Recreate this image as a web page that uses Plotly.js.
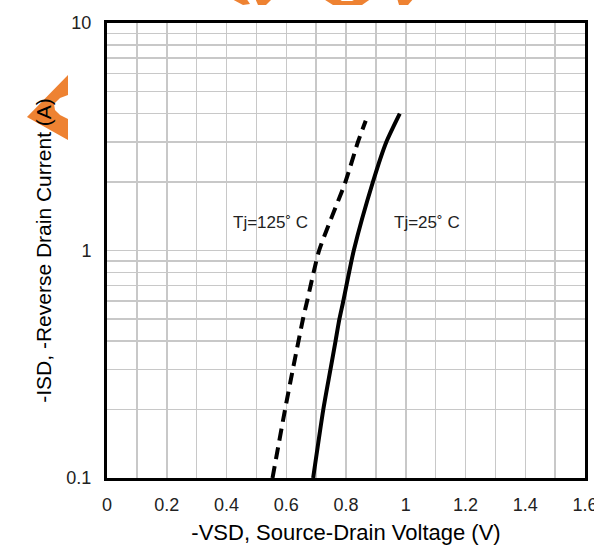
<!DOCTYPE html>
<html>
<head>
<meta charset="utf-8">
<script src="https://cdn.plot.ly/plotly-3.0.1.min.js"></script>
<style>html,body{margin:0;padding:0;background:#fff;}#chart{width:594px;height:552px;}</style>
</head>
<body>
<div id="chart"></div>
<script>
// Data
const current = [0.1, 0.2, 0.3, 0.4, 0.5, 0.6, 1, 2, 3, 4];
const vsd25 = [0.690, 0.724, 0.748, 0.765, 0.778, 0.791, 0.826, 0.890, 0.935, 0.980];
const current125 = [0.1, 0.2, 0.3, 0.4, 0.5, 0.6, 1, 2, 3, 3.72];
const vsd125 = [0.554, 0.596, 0.622, 0.641, 0.656, 0.670, 0.710, 0.798, 0.840, 0.866];
const xTickVals = [0, 0.1, 0.2, 0.3, 0.4, 0.5, 0.6, 0.7, 0.8, 0.9, 1, 1.1, 1.2, 1.3, 1.4, 1.5, 1.6];
const xTickText = ['0', '', '0.2', '', '0.4', '', '0.6', '', '0.8', '', '1', '', '1.2', '', '1.4', '', '1.6'];
const yTickVals = [0.1, 0.2, 0.3, 0.4, 0.5, 0.6, 0.7, 0.8, 0.9, 1, 2, 3, 4, 5, 6, 7, 8, 9, 10];
const yTickText = ['0.1', '', '', '', '', '', '', '', '', '1', '', '', '', '', '', '', '', '', '10'];
const labels = ['Tj=125\u02DA C', 'Tj=25\u02DA C'];

const W = 594, H = 552, M = {l: 107, r: 9, t: 23, b: 74};
const pw = W - M.l - M.r, ph = H - M.t - M.b;
// pixel -> paper helper (decorative watermark only)
function P(px, py) { return ((px - M.l) / pw).toFixed(4) + ',' + ((H - M.b - py) / ph).toFixed(4); }
function path(pts) { return 'M' + pts.map(p => P(p[0], p[1])).join(' L') + ' Z'; }
const orange = '#EE8232';
const wm = [
  [[27, 117], [68, 75], [68, 95], [60, 98], [54, 104], [55, 110], [60, 115], [68, 119], [68, 140]],
  [[230, -2], [246, -2], [250, 4], [243, 5]],
  [[255, -2], [273, -2], [266, 5], [258, 5]],
  [[322, -2], [337, -2], [342, 1], [352, 1], [358, -2], [372, -2], [362, 5], [333, 5]],
  [[397, -2], [414, -2], [408, 5], [399, 5]]
].map(pts => ({type: 'path', xref: 'paper', yref: 'paper', path: path(pts), fillcolor: orange, line: {width: 0}, layer: 'above'}));

const tickFont = {family: 'Liberation Sans, Arial, sans-serif', size: 18, color: '#222'};
const titleFont = {family: 'Liberation Sans, Arial, sans-serif', size: 22, color: '#000'};

const traces = [
  {x: vsd125, y: current125, mode: 'lines', line: {color: '#000', width: 4, dash: '12px,7px', shape: 'spline', smoothing: 0.6}, hoverinfo: 'skip', showlegend: false},
  {x: vsd25, y: current, mode: 'lines', line: {color: '#000', width: 4, shape: 'spline', smoothing: 0.6}, hoverinfo: 'skip', showlegend: false}
];

const layout = {
  width: W, height: H,
  margin: M,
  paper_bgcolor: '#fff', plot_bgcolor: '#fff',
  showlegend: false,
  xaxis: {
    range: [0, 1.6], tickmode: 'array', tickvals: xTickVals, ticktext: xTickText,
    showgrid: true, gridcolor: '#c8c8c8', gridwidth: 1.5, zeroline: false,
    showline: true, linecolor: '#000', linewidth: 3, mirror: true,
    ticks: '', ticklabelstandoff: 8, ticklabeloverflow: 'allow', tickfont: tickFont,
    title: {text: '-VSD, Source-Drain Voltage (V)', font: titleFont, standoff: 12}
  },
  yaxis: {
    type: 'log', range: [-1, 1], tickmode: 'array', tickvals: yTickVals, ticktext: yTickText,
    showgrid: true, gridcolor: '#c8c8c8', gridwidth: 1.5, zeroline: false,
    showline: true, linecolor: '#000', linewidth: 3, mirror: true,
    ticks: '', ticklabelstandoff: 9, ticklabeloverflow: 'allow', tickfont: tickFont,
    title: {text: '-ISD, -Reverse Drain Current (A)', font: {family: titleFont.family, size: 21, color: '#000'}, standoff: 10}
  },
  annotations: [
    {x: 0.546, y: 0.121, xref: 'x', yref: 'y', text: labels[0], showarrow: false, font: {family: 'Liberation Sans, Arial, sans-serif', size: 17, color: '#222'}},
    {x: 1.071, y: 0.121, xref: 'x', yref: 'y', text: labels[1], showarrow: false, font: {family: 'Liberation Sans, Arial, sans-serif', size: 17, color: '#222'}}
  ],
  shapes: wm
};

Plotly.newPlot('chart', traces, layout, {staticPlot: true, displayModeBar: false});
</script>
</body>
</html>
